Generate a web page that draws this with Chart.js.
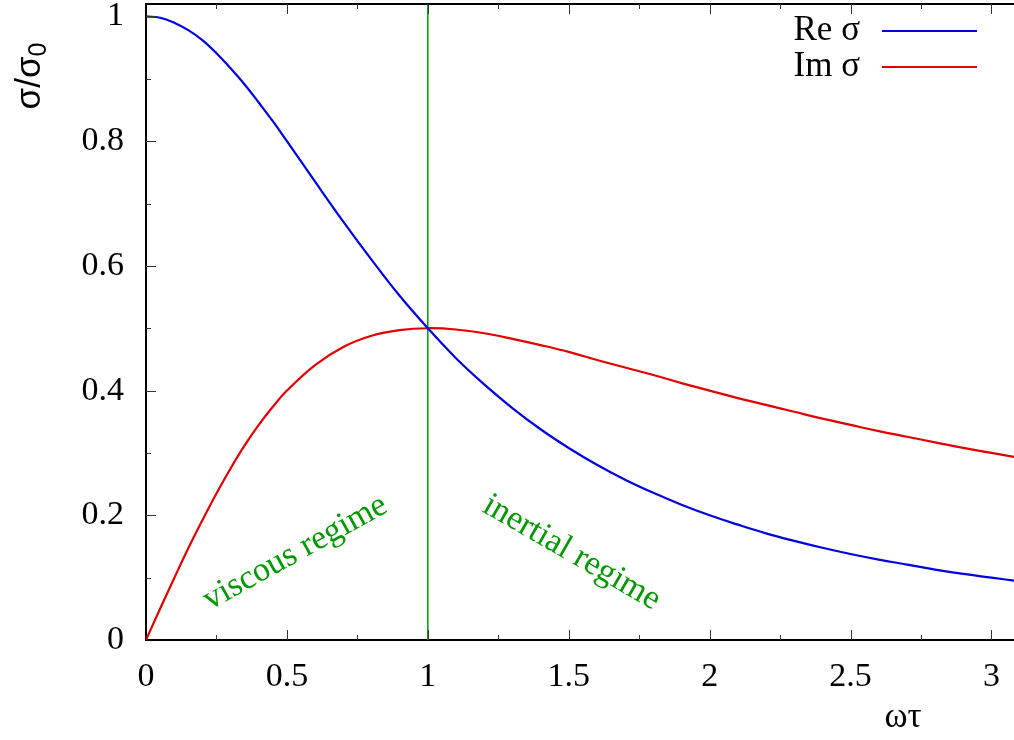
<!DOCTYPE html>
<html>
<head>
<meta charset="utf-8">
<script src="https://cdn.jsdelivr.net/npm/chart.js@4/dist/chart.umd.min.js"></script>
<style>
  html, body { margin: 0; padding: 0; background: #fff; }
  #chart { display: block; }
</style>
</head>
<body>
<canvas id="chart" width="1014" height="740"></canvas>
<script>
// values (omega*tau on x, sigma/sigma0 on y)
const omegaTau = [0, 0.05, 0.1, 0.15, 0.2, 0.25, 0.3, 0.35, 0.4, 0.45, 0.5,
  0.6, 0.7, 0.8, 0.9, 1.0,
  1.1, 1.2, 1.3, 1.4, 1.5, 1.6, 1.7, 1.8, 1.9, 2.0,
  2.1, 2.2, 2.3, 2.4, 2.5, 2.6, 2.7, 2.8, 2.9, 3.0, 3.1];
const reSigma = [1.000, 0.998, 0.990, 0.978, 0.962, 0.941, 0.917, 0.891, 0.862, 0.832, 0.800,
  0.735, 0.671, 0.610, 0.552, 0.500,
  0.452, 0.410, 0.372, 0.338, 0.308, 0.281, 0.257, 0.236, 0.217, 0.200,
  0.185, 0.171, 0.159, 0.148, 0.138, 0.129, 0.121, 0.113, 0.106, 0.100, 0.094];
const imSigma = [0.000, 0.050, 0.099, 0.147, 0.192, 0.235, 0.275, 0.312, 0.345, 0.374, 0.400,
  0.441, 0.470, 0.488, 0.497, 0.500,
  0.498, 0.492, 0.483, 0.473, 0.462, 0.449, 0.437, 0.425, 0.412, 0.400,
  0.388, 0.377, 0.366, 0.355, 0.345, 0.335, 0.326, 0.317, 0.308, 0.300, 0.292];
const crossover = 1; // omega*tau = 1 divider

const xTicks = [0, 0.5, 1, 1.5, 2, 2.5, 3];
const yTicks = [0, 0.2, 0.4, 0.6, 0.8, 1];
const xMinorTicks = [0.25, 0.75, 1.25, 1.75, 2.25, 2.75];
const yMinorTicks = [0.1, 0.3, 0.5, 0.7, 0.9];

const regimeLabels = [
  { text: "viscous regime", x: 0.53, y: 0.14, angle: -29 },
  { text: "inertial regime", x: 1.51, y: 0.14, angle: 30 }
];

const serif = "'Liberation Serif', 'Times New Roman', serif";
const BLUE = "#0000e0";
const RED = "#e00000";
const GREEN = "#009900";

// frame, inward ticks, legend, titles and annotations (gnuplot look)
const decorPlugin = {
  id: "decor",
  afterDraw(chart) {
    const ctx = chart.ctx;
    const area = chart.chartArea;
    const xs = chart.scales.x;
    const ys = chart.scales.y;
    ctx.save();

    // top border
    ctx.strokeStyle = "#000";
    ctx.lineWidth = 2;
    ctx.beginPath();
    ctx.moveTo(area.left - 1, area.top);
    ctx.lineTo(area.right, area.top);
    ctx.stroke();

    // ticks
    ctx.strokeStyle = "#333";
    ctx.lineWidth = 1;
    const tickX = (vals, len) => vals.forEach(v => {
      const px = Math.round(xs.getPixelForValue(v)) + 0.5;
      ctx.beginPath();
      ctx.moveTo(px, area.bottom); ctx.lineTo(px, area.bottom - len);
      ctx.moveTo(px, area.top); ctx.lineTo(px, area.top + len);
      ctx.stroke();
    });
    const tickY = (vals, len) => vals.forEach(v => {
      const py = Math.round(ys.getPixelForValue(v)) + 0.5;
      ctx.beginPath();
      ctx.moveTo(area.left, py); ctx.lineTo(area.left + len, py);
      ctx.stroke();
    });
    tickX(xTicks.filter(v => v > 0), 10);
    tickX(xMinorTicks, 5);
    tickY(yTicks.filter(v => v > 0), 10);
    tickY(yMinorTicks, 5);

    // regime annotations
    ctx.fillStyle = GREEN;
    ctx.font = "34px " + serif;
    ctx.textAlign = "center";
    ctx.textBaseline = "middle";
    regimeLabels.forEach(l => {
      ctx.save();
      ctx.translate(xs.getPixelForValue(l.x), ys.getPixelForValue(l.y));
      ctx.rotate(l.angle * Math.PI / 180);
      ctx.fillText(l.text, 0, 0);
      ctx.restore();
    });

    // legend (top right)
    ctx.font = "35px " + serif;
    ctx.textAlign = "right";
    chart.data.datasets.filter(d => !d.hideInLegend).forEach((d, i) => {
      const y = 31 + i * 36;
      ctx.fillStyle = "#000";
      ctx.fillText(d.label, 860, y);
      ctx.strokeStyle = d.borderColor;
      ctx.lineWidth = 2;
      ctx.beginPath();
      ctx.moveTo(882, y); ctx.lineTo(977, y);
      ctx.stroke();
    });

    // x title
    ctx.fillStyle = "#000";
    ctx.textAlign = "center";
    ctx.fillText("ωτ", 903, 718);

    // y title: sigma / sigma_0, rotated
    const big = "35px 'Liberation Sans', Arial, sans-serif";
    const small = "25px 'Liberation Sans', Arial, sans-serif";
    ctx.save();
    ctx.translate(30, 76);
    ctx.rotate(-Math.PI / 2);
    ctx.font = big;
    const main = "σ/σ";
    const w1 = ctx.measureText(main).width;
    ctx.font = small;
    const w2 = ctx.measureText("0").width;
    const start = -(w1 + w2) / 2;
    ctx.textAlign = "left";
    ctx.font = big;
    ctx.fillText(main, start, 0);
    ctx.font = small;
    ctx.fillText("0", start + w1, 9);
    ctx.restore();

    ctx.restore();
  }
};

new Chart(document.getElementById("chart"), {
  type: "line",
  data: {
    datasets: [
      {
        label: "Re σ",
        data: omegaTau.map((x, i) => ({ x: x, y: reSigma[i] })),
        borderColor: BLUE,
        borderWidth: 2.2,
        pointRadius: 0,
        tension: 0.4
      },
      {
        label: "Im σ",
        data: omegaTau.map((x, i) => ({ x: x, y: imSigma[i] })),
        borderColor: RED,
        borderWidth: 2.2,
        pointRadius: 0,
        tension: 0.4
      },
      {
        label: "crossover",
        hideInLegend: true,
        data: [{ x: crossover, y: 0 }, { x: crossover, y: 1.02 }],
        borderColor: GREEN,
        borderWidth: 1.5,
        pointRadius: 0
      }
    ]
  },
  options: {
    responsive: false,
    devicePixelRatio: 1,
    animation: false,
    layout: { padding: { top: 4, right: 0, left: 0, bottom: 0 } },
    plugins: {
      legend: { display: false },
      tooltip: { enabled: false }
    },
    scales: {
      x: {
        type: "linear",
        min: 0,
        max: 3.08,
        afterBuildTicks: s => { s.ticks = xTicks.map(v => ({ value: v })); },
        afterFit: s => {
          s.height = 100;
          s.paddingLeft = 0; s.paddingRight = 0; s.paddingTop = 0; s.paddingBottom = 0;
        },
        grid: { display: false, drawTicks: false },
        border: { display: true, color: "#000", width: 2 },
        ticks: {
          color: "#000",
          font: { family: serif, size: 34 },
          padding: 17,
          maxRotation: 0,
          callback: v => String(v)
        }
      },
      y: {
        type: "linear",
        min: 0,
        max: 1.02,
        afterBuildTicks: s => { s.ticks = yTicks.map(v => ({ value: v })); },
        afterFit: s => {
          s.width = 146;
          s.paddingLeft = 0; s.paddingRight = 0; s.paddingTop = 0; s.paddingBottom = 0;
        },
        grid: { display: false, drawTicks: false },
        border: { display: true, color: "#000", width: 2 },
        ticks: {
          color: "#000",
          font: { family: serif, size: 34 },
          padding: 22,
          callback: v => String(v)
        }
      }
    }
  },
  plugins: [decorPlugin]
});
</script>
</body>
</html>
